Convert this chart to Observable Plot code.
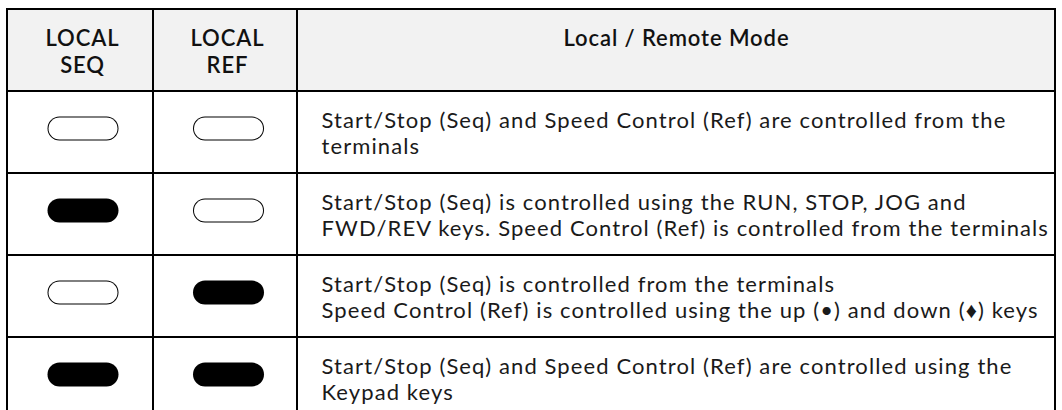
<!DOCTYPE html>
<html>
<head>
<meta charset="utf-8">
<script src="https://cdn.jsdelivr.net/npm/d3@7"></script>
<script src="https://cdn.jsdelivr.net/npm/@observablehq/plot@0.6"></script>
<style>
  html, body { margin: 0; padding: 0; background: #fff; }
  svg { display: block; }
</style>
</head>
<body>
<div id="chart"></div>
<script>
// ---- data ----
const headers = ["LOCAL\nSEQ", "LOCAL\nREF", "Local / Remote Mode"];
const localSeq = [false, true, false, true];
const localRef = [false, false, true, true];
const descriptions = [
  "Start/Stop (Seq) and Speed Control (Ref) are controlled from the\nterminals",
  "Start/Stop (Seq) is controlled using the RUN, STOP, JOG and\nFWD/REV keys. Speed Control (Ref) is controlled from the terminals",
  "Start/Stop (Seq) is controlled from the terminals\nSpeed Control (Ref) is controlled using the up (\u2022) and down (\u2666) keys",
  "Start/Stop (Seq) and Speed Control (Ref) are controlled using the\nKeypad keys"
];

// ---- layout (pixels) ----
const W = 1062, H = 410;
const colEdges = [7, 153, 297, 1055];
const pillCenters = [82.5, 228];
const pillHalf = 23.5;
const textLeft = 321;

const nRows = descriptions.length + 1; // header + body rows
const cells = [];
for (let r = 0; r < nRows; r++) {
  for (let c = 0; c < 3; c++) {
    cells.push({r, c, x1: colEdges[c], x2: colEdges[c + 1], header: r === 0});
  }
}
const headerCells = headers.map((h, c) => ({
  text: h, c, x: (colEdges[c] + colEdges[c + 1]) / 2 + (c < 2 ? 2 : 0), r: 0
}));
const bodyRows = descriptions.map((d, i) => ({text: d, r: i + 1}));
const pills = [];
localSeq.forEach((on, i) => pills.push({r: i + 1, c: 0, on}));
localRef.forEach((on, i) => pills.push({r: i + 1, c: 1, on}));

const chart = Plot.plot({
  width: W,
  height: H,
  margin: 0,
  x: {domain: [0, W], range: [0, W], axis: null},
  y: {domain: [0, nRows], range: [9, 9 + 82 * nRows], axis: null},
  style: {fontFamily: "Lato, sans-serif", background: "#fff", color: "#111"},
  marks: [
    Plot.rectX(cells, {x1: "x1", x2: "x2", y1: d => d.r, y2: d => d.r + 1, fill: d => d.header ? "#f2f2f2" : "#ffffff"}),
    Plot.rectX(cells, {x1: "x1", x2: "x2", y1: d => d.r, y2: d => d.r + 1, fill: "none", stroke: "#000", strokeWidth: 2}),
    // pills
    Plot.link(pills, {
      x1: d => pillCenters[d.c] - pillHalf, x2: d => pillCenters[d.c] + pillHalf,
      y1: d => d.r + 0.5, y2: d => d.r + 0.5, dy: -4,
      stroke: "#000", strokeWidth: 24, strokeLinecap: "round"
    }),
    Plot.link(pills.filter(d => !d.on), {
      x1: d => pillCenters[d.c] - pillHalf, x2: d => pillCenters[d.c] + pillHalf,
      y1: d => d.r + 0.5, y2: d => d.r + 0.5, dy: -4,
      stroke: "#fff", strokeWidth: 22, strokeLinecap: "round"
    }),
    // header text
    Plot.text(headerCells, {
      x: "x", y: d => d.r + 0.5, text: "text",
      lineAnchor: "middle", lineHeight: 1.23,
      fontSize: 22, fontWeight: 600, fill: "#111"
    }),
    // body text
    Plot.text(bodyRows, {
      x: textLeft, y: d => d.r + 0.5, text: "text",
      textAnchor: "start", lineAnchor: "middle", lineHeight: 1.18,
      fontSize: 22, fill: "#1a1a1a"
    })
  ]
});
document.getElementById("chart").appendChild(chart);
const textGroups = chart.querySelectorAll("g[aria-label='text']");
if (textGroups[0]) {
  textGroups[0].style.letterSpacing = "0.9px";
  textGroups[0].querySelectorAll("text").forEach(t => {
    if (!t.querySelector("tspan")) t.setAttribute("dy", "-0.6em");
  });
}
if (textGroups[1]) textGroups[1].style.letterSpacing = "1.1px";
</script>
</body>
</html>
